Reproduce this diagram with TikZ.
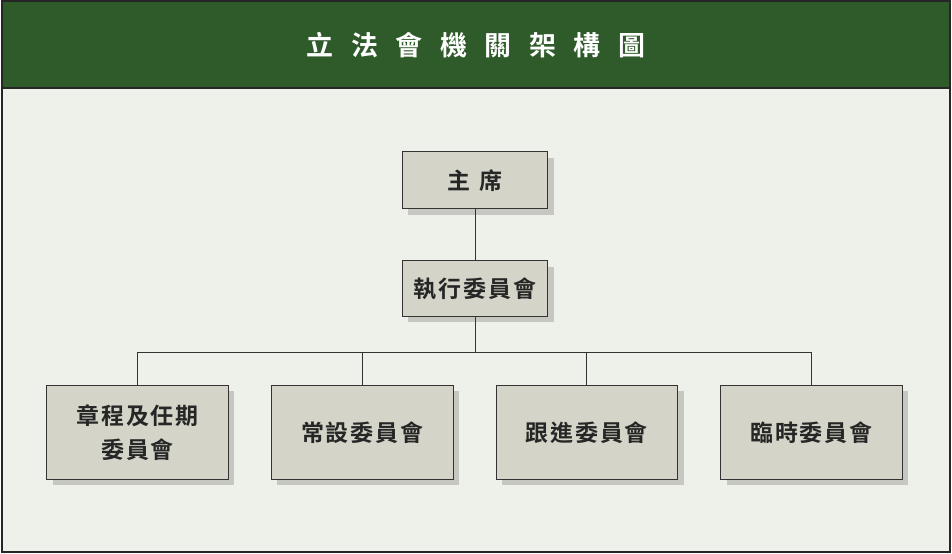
\documentclass[tikz,border=0pt]{standalone}
\usepackage{fontspec}
\newfontfamily\cjk{Noto Sans CJK TC}[BoldFont={Noto Sans CJK TC Bold}]
\definecolor{hdr}{HTML}{2F5A2A}
\definecolor{bg}{HTML}{EEF0EA}
\definecolor{boxf}{HTML}{D4D5C8}
\definecolor{shd}{HTML}{C6C7C0}
\newcommand\gapch{\hspace{0.08em}}
\begin{document}
\begin{tikzpicture}[x=1pt,y=-1pt,
  orgbox/.style={draw=black!80,line width=0.8pt,fill=boxf,inner sep=0pt,
    font=\cjk\bfseries\fontsize{23}{34}\selectfont,align=center,text=black!85},
  conn/.style={draw=black!80,line width=0.8pt}]
\fill[bg] (0,0) rectangle (952,554);
\fill[hdr] (0,0) rectangle (952,88);
\draw[black!85,line width=1.5pt] (0,88) -- (952,88);
\draw[black!85,line width=2pt] (1,1) rectangle (951,553);
\node[text=white,font=\cjk\bfseries\fontsize{27}{30}\selectfont] (title) at (476,45) {立\hspace{0.65em}法\hspace{0.65em}會\hspace{0.65em}機\hspace{0.65em}關\hspace{0.65em}架\hspace{0.65em}構\hspace{0.65em}圖};
\foreach \a/\b/\c/\d in {402/152/548/209, 402/261/548/317, 46/386/228/480, 271/386/453/480, 496/386/678/480, 721/386/903/480}
  \fill[shd] (\a+6,\b+6) rectangle (\c+6,\d+6);
\node[orgbox,minimum width=146pt,minimum height=57pt] (chair) at (475,180.5) {主\hspace{0.4em}席};
\node[orgbox,minimum width=146pt,minimum height=56pt] (exec) at (475,289) {執\gapch 行\gapch 委\gapch 員\gapch 會};
\node[orgbox,minimum width=182pt,minimum height=94pt] (b1) at (137,433) {章\gapch 程\gapch 及\gapch 任\gapch 期\\委\gapch 員\gapch 會};
\node[orgbox,minimum width=182pt,minimum height=94pt] (b2) at (362,433) {常\gapch 設\gapch 委\gapch 員\gapch 會};
\node[orgbox,minimum width=182pt,minimum height=94pt] (b3) at (587,433) {跟\gapch 進\gapch 委\gapch 員\gapch 會};
\node[orgbox,minimum width=182pt,minimum height=94pt] (b4) at (812,433) {臨\gapch 時\gapch 委\gapch 員\gapch 會};
\coordinate (j) at (475,353);
\draw[conn] (chair.south) -- (exec.north);
\draw[conn] (exec.south) -- (j);
\draw[conn] (b1.north) |- (j) -| (b4.north);
\draw[conn] (b2.north) -- (b2.north |- j);
\draw[conn] (b3.north) -- (b3.north |- j);
\end{tikzpicture}
\end{document}
